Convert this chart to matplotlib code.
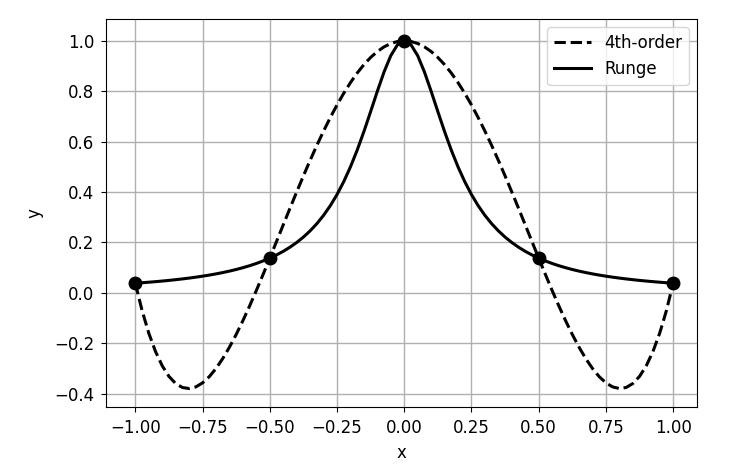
import matplotlib
matplotlib.use('Agg')
import matplotlib.pyplot as plt

# sample positions and curve values
x = [-1.0, -0.975, -0.95, -0.925, -0.9, -0.875, -0.85, -0.825, -0.8, -0.775,
     -0.75, -0.725, -0.7, -0.675, -0.65, -0.625, -0.6, -0.575, -0.55, -0.525,
     -0.5, -0.475, -0.45, -0.425, -0.4, -0.375, -0.35, -0.325, -0.3, -0.275,
     -0.25, -0.225, -0.2, -0.175, -0.15, -0.125, -0.1, -0.075, -0.05, -0.025,
     0.0, 0.025, 0.05, 0.075, 0.1, 0.125, 0.15, 0.175, 0.2, 0.225,
     0.25, 0.275, 0.3, 0.325, 0.35, 0.375, 0.4, 0.425, 0.45, 0.475,
     0.5, 0.525, 0.55, 0.575, 0.6, 0.625, 0.65, 0.675, 0.7, 0.725,
     0.75, 0.775, 0.8, 0.825, 0.85, 0.875, 0.9, 0.925, 0.95, 0.975, 1.0]

poly4 = [0.03846, -0.06969, -0.15955, -0.23230, -0.28912, -0.33116, -0.35948, -0.37519, -0.37931, -0.37286,
         -0.35683, -0.33214, -0.29973, -0.26049, -0.21525, -0.16485, -0.11008, -0.05170, 0.00955, 0.07299,
         0.13793, 0.20375, 0.26983, 0.33561, 0.40053, 0.46409, 0.52580, 0.58521, 0.64191, 0.69550,
         0.74563, 0.79197, 0.83422, 0.87212, 0.90544, 0.93398, 0.95756, 0.97605, 0.98933, 0.99733,
         1.0, 0.99733, 0.98933, 0.97605, 0.95756, 0.93398, 0.90544, 0.87212, 0.83422, 0.79197,
         0.74563, 0.69550, 0.64191, 0.58521, 0.52580, 0.46409, 0.40053, 0.33561, 0.26983, 0.20375,
         0.13793, 0.07299, 0.00955, -0.05170, -0.11008, -0.16485, -0.21525, -0.26049, -0.29973, -0.33214,
         -0.35683, -0.37286, -0.37931, -0.37519, -0.35948, -0.33116, -0.28912, -0.23230, -0.15955, -0.06969, 0.03846]

runge = [0.03846, 0.04038, 0.04244, 0.04466, 0.04706, 0.04965, 0.05246, 0.05551, 0.05882, 0.06244,
         0.06639, 0.07072, 0.07547, 0.08071, 0.08649, 0.09289, 0.1, 0.10793, 0.11679, 0.12673,
         0.13793, 0.15059, 0.16495, 0.18130, 0.2, 0.22145, 0.24615, 0.27468, 0.30769, 0.34595,
         0.39024, 0.44138, 0.5, 0.56637, 0.64, 0.71910, 0.8, 0.87671, 0.94118, 0.98462,
         1.0, 0.98462, 0.94118, 0.87671, 0.8, 0.71910, 0.64, 0.56637, 0.5, 0.44138,
         0.39024, 0.34595, 0.30769, 0.27468, 0.24615, 0.22145, 0.2, 0.18130, 0.16495, 0.15059,
         0.13793, 0.12673, 0.11679, 0.10793, 0.1, 0.09289, 0.08649, 0.08071, 0.07547, 0.07072,
         0.06639, 0.06244, 0.05882, 0.05551, 0.05246, 0.04965, 0.04706, 0.04466, 0.04244, 0.04038, 0.03846]

nodes_x = [-1.0, -0.5, 0.0, 0.5, 1.0]
nodes_y = [0.03846, 0.13793, 1.0, 0.13793, 0.03846]

plt.rcParams['font.size'] = 12
fig = plt.figure(figsize=(7.33, 4.72), dpi=100)
ax = fig.add_axes([0.145, 0.138, 0.806, 0.822])

ax.plot(x, poly4, 'k--', lw=2.2, label='4th-order')
ax.plot(x, runge, 'k-', lw=2.2, label='Runge')
ax.plot(nodes_x, nodes_y, 'ko', ms=9)

ax.set_xlim(-1.108, 1.089)
ax.set_ylim(-0.452, 1.087)
ax.set_xticks([-1.0, -0.75, -0.5, -0.25, 0.0, 0.25, 0.5, 0.75, 1.0])
ax.set_xticklabels(['−1.00', '−0.75', '−0.50', '−0.25', '0.00', '0.25', '0.50', '0.75', '1.00'])
ax.set_yticks([-0.4, -0.2, 0.0, 0.2, 0.4, 0.6, 0.8, 1.0])
ax.tick_params(pad=5)
ax.grid(True, color='#b0b0b0', lw=1)
ax.set_xlabel('x', labelpad=5)
ax.set_ylabel('y', labelpad=8)
ax.legend(loc='upper right', handlelength=2.2)

plt.savefig('out.png')
